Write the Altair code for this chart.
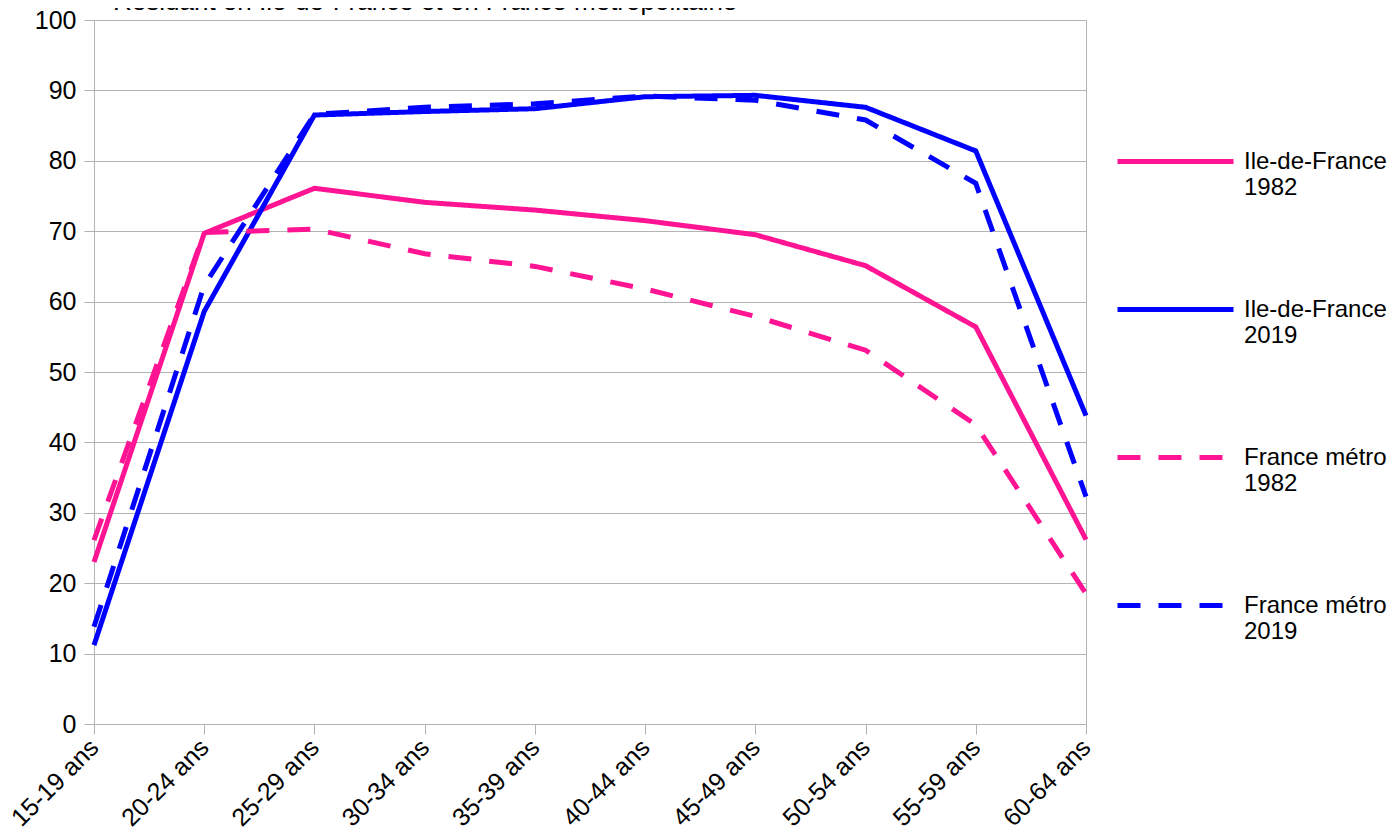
import altair as alt
import pandas as pd

age_groups = ["15-19 ans", "20-24 ans", "25-29 ans", "30-34 ans", "35-39 ans",
              "40-44 ans", "45-49 ans", "50-54 ans", "55-59 ans", "60-64 ans"]
series_names = ["Ile-de-France 1982", "Ile-de-France 2019", "France métro 1982", "France métro 2019"]
idf_1982 = [23.0, 69.7, 76.1, 74.1, 73.0, 71.5, 69.5, 65.1, 56.4, 26.2]
idf_2019 = [11.2, 58.6, 86.5, 87.0, 87.4, 89.1, 89.3, 87.6, 81.4, 43.8]
fr_1982 = [26.1, 69.8, 70.3, 66.8, 65.0, 61.8, 57.9, 53.1, 42.5, 18.5]
fr_2019 = [13.8, 62.3, 86.6, 87.6, 88.1, 89.2, 88.6, 85.8, 76.8, 32.3]
series_colors = ["#ff1493", "#0000ff", "#ff1493", "#0000ff"]
series_dashes = [[1, 0], [1, 0], [23, 18], [23, 18]]
title_text = ["Résidant en Ile-de-France et en France métropolitaine"]

rows = []
for name, vals in zip(series_names, [idf_1982, idf_2019, fr_1982, fr_2019]):
    for a, v in zip(age_groups, vals):
        rows.append({"age": a, "taux": v, "serie": name})
df = pd.DataFrame(rows)

legend_kw = dict(
    title=None, orient="none", legendX=1021, legendY=81,
    symbolType="stroke", symbolSize=13456, symbolStrokeWidth=5,
    labelFontSize=24, labelFont="Liberation Sans", labelColor="black",
    labelOffset=8, rowPadding=49, labelLimit=400, padding=0,
    labelExpr="[slice(datum.label, 0, lastindexof(datum.label, ' ')), slice(datum.label, lastindexof(datum.label, ' ') + 1)]",
)

lines = alt.Chart(df).mark_line(strokeWidth=5, strokeJoin="miter").encode(
    x=alt.X("age:N", sort=age_groups, scale=alt.Scale(type="point", padding=0),
            axis=alt.Axis(title=None, labelAngle=-45, labelAlign="right", labelBaseline="middle",
                          tickSize=10, labelPadding=9, grid=False)),
    y=alt.Y("taux:Q", scale=alt.Scale(domain=[0, 100], nice=False),
            axis=alt.Axis(title=None, values=list(range(0, 101, 10)), tickSize=10, labelPadding=8, grid=True)),
    color=alt.Color("serie:N", sort=series_names,
                    scale=alt.Scale(domain=series_names, range=series_colors),
                    legend=alt.Legend(**legend_kw)),
    strokeDash=alt.StrokeDash("serie:N", sort=series_names,
                              scale=alt.Scale(domain=series_names, range=series_dashes),
                              legend=alt.Legend(**legend_kw)),
)

title = alt.Chart(pd.DataFrame({"t": title_text})).mark_text(
    align="left", baseline="alphabetic", fontSize=26, font="Liberation Sans", color="black"
).encode(text="t:N", x=alt.value(19), y=alt.value(-10))

chart = alt.layer(lines, title).properties(
    width=992, height=704,
    padding={"left": 86, "top": 12, "right": 303, "bottom": 108},
    autosize=alt.AutoSizeParams(type="none"),
).configure_view(stroke="#b3b3b3").configure_axis(
    domainColor="#b3b3b3", gridColor="#b3b3b3", tickColor="#b3b3b3",
    labelColor="black", labelFont="Liberation Sans", labelFontSize=25,
    domainWidth=1, gridWidth=1, tickWidth=1,
)

chart.save("out.html", embed_options={"renderer": "svg", "actions": False})
